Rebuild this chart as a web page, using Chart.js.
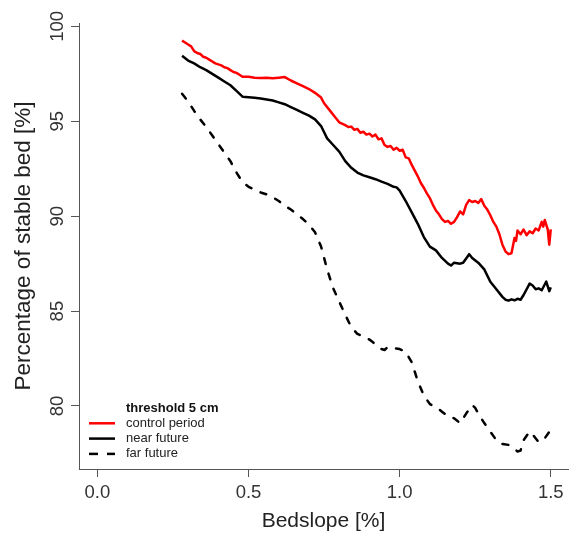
<!DOCTYPE html>
<html>
<head>
<meta charset="utf-8">
<script src="https://cdn.jsdelivr.net/npm/chart.js@4.4.1/dist/chart.umd.min.js"></script>
<style>
  html, body { margin: 0; padding: 0; background: #fff; }
  #box { width: 577px; height: 537px; }
</style>
</head>
<body>
<div id="box"><canvas id="myChart"></canvas></div>
<script>
// bedslope [%] and stable bed [%] for each period
var slopeControl = [0.28,0.29,0.30,0.31,0.32,0.33,0.34,0.35,0.36,0.37,0.38,0.39,0.40,0.41,0.42,0.43,0.44,0.45,0.46,0.47,0.48,0.50,0.52,0.54,0.56,0.58,0.60,0.62,0.64,0.66,0.68,0.70,0.72,0.74,0.75,0.77,0.79,0.80,0.82,0.83,0.84,0.85,0.86,0.87,0.88,0.89,0.90,0.91,0.92,0.93,0.94,0.95,0.96,0.97,0.98,0.99,1.00,1.01,1.02,1.03,1.04,1.05,1.06,1.07,1.08,1.09,1.10,1.11,1.12,1.13,1.14,1.15,1.16,1.17,1.18,1.19,1.20,1.21,1.22,1.23,1.24,1.25,1.26,1.27,1.28,1.29,1.30,1.31,1.32,1.33,1.34,1.35,1.36,1.37,1.38,1.385,1.39,1.40,1.41,1.42,1.43,1.44,1.45,1.46,1.47,1.475,1.48,1.49,1.495,1.50];
var stableControl = [99.25,99.15,99.05,98.95,98.7,98.6,98.55,98.4,98.35,98.25,98.15,98.05,98.0,97.95,97.85,97.8,97.7,97.6,97.55,97.45,97.35,97.35,97.3,97.28,97.3,97.27,97.3,97.33,97.15,97.0,96.85,96.7,96.5,96.25,95.95,95.55,95.15,94.95,94.8,94.7,94.72,94.55,94.6,94.4,94.45,94.3,94.35,94.2,94.3,94.05,94.1,93.75,93.65,93.7,93.5,93.6,93.45,93.5,93.1,93.05,92.7,92.4,92.1,91.75,91.5,91.2,90.95,90.6,90.3,90.1,89.85,89.7,89.75,89.6,89.7,89.95,90.25,90.1,90.6,90.85,90.75,90.8,90.7,90.9,90.55,90.35,90.05,89.7,89.45,89.05,88.5,88.15,88.0,88.05,88.85,88.7,89.25,89.05,89.3,89.0,89.2,89.1,89.35,89.25,89.7,89.45,89.8,89.3,88.5,89.3];

var slopeNear = [0.28,0.30,0.32,0.34,0.36,0.38,0.40,0.42,0.44,0.46,0.48,0.50,0.52,0.54,0.56,0.58,0.60,0.62,0.64,0.66,0.68,0.70,0.72,0.74,0.76,0.78,0.80,0.82,0.84,0.86,0.88,0.90,0.92,0.94,0.96,0.98,0.99,1.00,1.02,1.04,1.06,1.08,1.10,1.12,1.14,1.16,1.17,1.18,1.20,1.21,1.23,1.24,1.26,1.28,1.30,1.32,1.34,1.35,1.36,1.37,1.38,1.39,1.40,1.41,1.43,1.44,1.45,1.46,1.47,1.48,1.485,1.49,1.495,1.50];
var stableNear = [98.45,98.2,98.05,97.85,97.7,97.5,97.3,97.1,96.9,96.6,96.3,96.27,96.24,96.2,96.15,96.1,96.0,95.9,95.75,95.6,95.45,95.3,95.1,94.75,94.1,93.75,93.4,92.9,92.55,92.3,92.15,92.05,91.95,91.82,91.7,91.55,91.52,91.35,90.8,90.2,89.6,88.9,88.4,88.2,87.8,87.5,87.4,87.55,87.5,87.55,88.0,87.8,87.55,87.2,86.55,86.15,85.75,85.6,85.55,85.62,85.57,85.65,85.6,85.85,86.45,86.35,86.15,86.2,86.1,86.4,86.55,86.3,86.05,86.25];

var slopeFar = [0.28,0.30,0.32,0.34,0.36,0.38,0.40,0.42,0.44,0.46,0.48,0.50,0.52,0.54,0.56,0.58,0.60,0.62,0.64,0.66,0.68,0.70,0.72,0.74,0.76,0.78,0.80,0.82,0.84,0.86,0.88,0.90,0.92,0.94,0.95,0.96,0.98,1.00,1.02,1.04,1.06,1.08,1.10,1.12,1.14,1.16,1.18,1.20,1.22,1.24,1.25,1.26,1.28,1.30,1.32,1.34,1.36,1.375,1.39,1.40,1.41,1.43,1.44,1.46,1.48,1.50];
var stableFar = [96.45,96.05,95.55,95.1,94.7,94.25,93.8,93.35,92.9,92.3,91.8,91.55,91.4,91.25,91.15,91.0,90.8,90.55,90.35,90.1,89.85,89.55,89.15,88.4,87.2,86.2,85.5,84.8,84.15,83.8,83.65,83.5,83.25,83.0,82.95,83.1,83.05,83.0,82.85,82.3,81.3,80.55,80.1,79.95,79.7,79.45,79.35,79.1,79.6,80.05,79.9,79.6,79.1,78.65,78.2,78.0,77.95,77.83,77.6,77.65,78.2,78.65,78.5,78.1,78.3,78.75];

var seriesNames = ['control period', 'near future', 'far future'];
var legendTitle = 'threshold 5 cm';
var xTicks = [0, 0.5, 1.0, 1.5];
var yTicks = [80, 85, 90, 95, 100];

function points(xs, ys) {
  return xs.map(function(x, i) { return { x: x, y: ys[i] }; });
}

var fontFam = '"Liberation Sans", Arial, Helvetica, sans-serif';

// legende dessinee dans la zone du graphique (comme R)
const legendBox = {
  id: 'legendBox',
  afterDatasetsDraw(chart) {
    const ctx = chart.ctx;
    const x0 = 89, tx = 126, y0 = 408;
    ctx.save();
    ctx.textBaseline = 'middle';
    ctx.textAlign = 'left';
    ctx.fillStyle = '#111';
    ctx.font = 'bold 13px ' + fontFam;
    ctx.fillText(legendTitle, tx, y0);
    chart.data.datasets.forEach(function(ds, i) {
      const y = y0 + 15.3 * (i + 1);
      ctx.strokeStyle = ds.borderColor;
      ctx.lineWidth = ds.borderWidth;
      ctx.lineCap = 'butt';
      ctx.setLineDash(ds.borderDash ? [9, 9] : []);
      ctx.beginPath();
      ctx.moveTo(x0, y);
      ctx.lineTo(x0 + 26, y);
      ctx.stroke();
      ctx.setLineDash([]);
      ctx.font = '13px ' + fontFam;
      ctx.fillStyle = '#222';
      ctx.fillText(ds.label, tx, y);
    });
    ctx.restore();
  }
};

const ctx = document.getElementById('myChart').getContext('2d');

const config = {
  type: 'line',
  data: {
    datasets: [{
      label: seriesNames[0],
      data: points(slopeControl, stableControl),
      borderColor: '#ff0000',
      borderWidth: 2.5
    }, {
      label: seriesNames[1],
      data: points(slopeNear, stableNear),
      borderColor: '#000000',
      borderWidth: 2.5
    }, {
      label: seriesNames[2],
      data: points(slopeFar, stableFar),
      borderColor: '#000000',
      borderWidth: 2.5,
      borderDash: [6, 10],
      borderCapStyle: 'round'
    }]
  },
  options: {
    responsive: true,
    maintainAspectRatio: false,
    animation: false,
    layout: { padding: { top: 23, right: 9, left: 0, bottom: 0 } },
    elements: {
      point: { radius: 0 },
      line: { tension: 0, borderJoinStyle: 'round', fill: false }
    },
    plugins: {
      legend: { display: false },
      tooltip: { enabled: false }
    },
    scales: {
      x: {
        type: 'linear',
        min: -0.061,
        max: 1.557,
        bounds: 'data',
        afterBuildTicks: function(scale) {
          scale.ticks = xTicks.map(function(v) { return { value: v }; });
        },
        afterFit: function(scale) { scale.height = 68; },
        grid: { drawOnChartArea: false, tickLength: 8, color: '#555', lineWidth: 1 },
        border: { display: true, color: '#555', width: 1 },
        ticks: {
          font: { family: fontFam, size: 18.5 },
          color: '#333',
          padding: 5,
          maxRotation: 0,
          callback: function(v) { return Number(v).toFixed(1); }
        },
        title: {
          display: true,
          text: 'Bedslope [%]',
          font: { family: fontFam, size: 21 },
          color: '#222',
          padding: { top: 0, bottom: 3 }
        }
      },
      y: {
        type: 'linear',
        min: 76.68,
        max: 100.18,
        bounds: 'data',
        afterBuildTicks: function(scale) {
          scale.ticks = yTicks.map(function(v) { return { value: v }; });
        },
        afterFit: function(scale) { scale.width = 79; },
        grid: { drawOnChartArea: false, tickLength: 8, color: '#555', lineWidth: 1 },
        border: { display: true, color: '#555', width: 1 },
        ticks: {
          font: { family: fontFam, size: 18.5 },
          color: '#333',
          padding: -2,
          minRotation: 90,
          maxRotation: 90,
          crossAlign: 'center'
        },
        title: {
          display: true,
          text: 'Percentage of stable bed [%]',
          font: { family: fontFam, size: 22.5 },
          color: '#222',
          padding: { top: 10, bottom: 0 }
        }
      }
    }
  },
  plugins: [legendBox]
};

const chart = new Chart(ctx, config);
</script>
</body>
</html>
